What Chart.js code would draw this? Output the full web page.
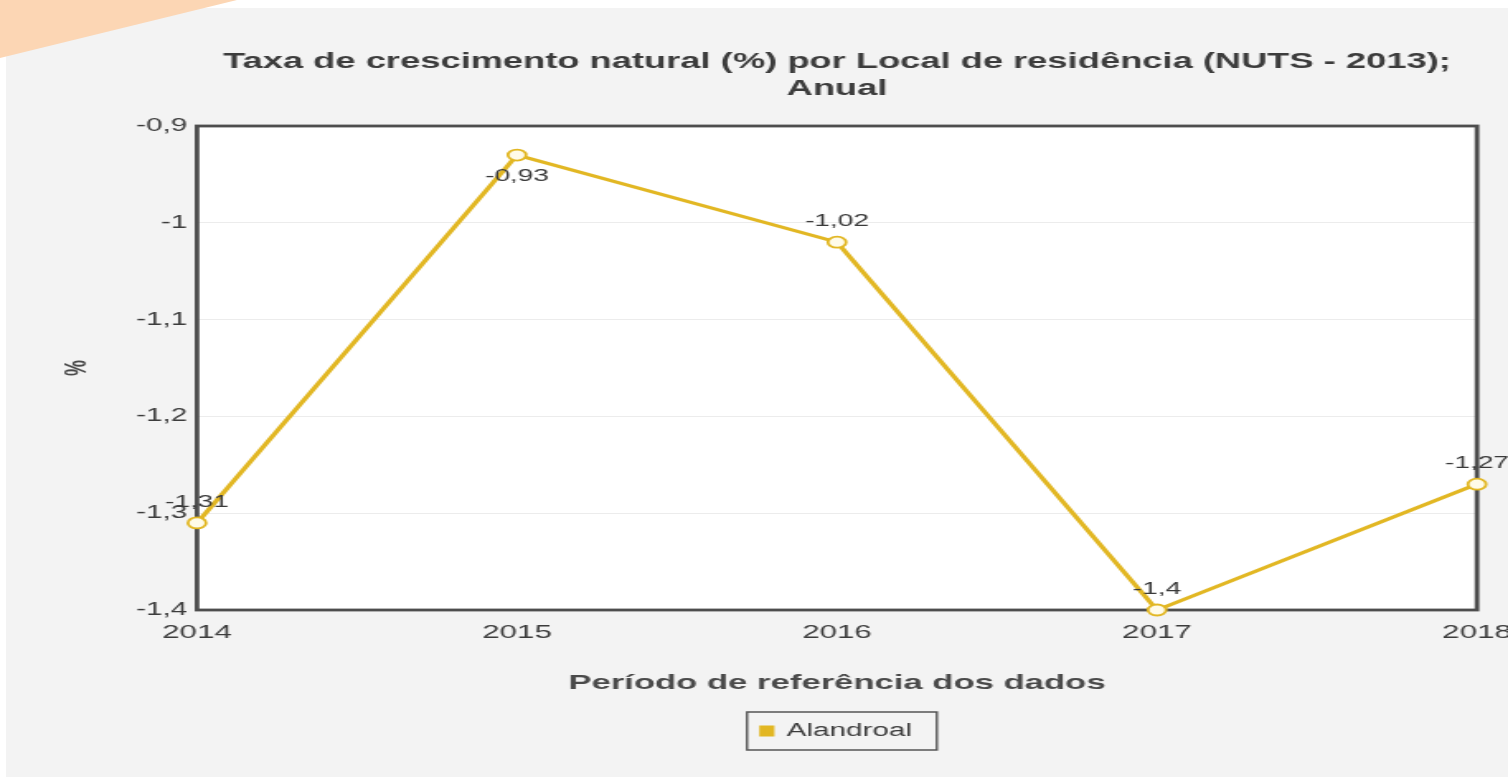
<!DOCTYPE html>
<html>
<head>
<meta charset="utf-8">
<script src="https://cdn.jsdelivr.net/npm/chart.js@4/dist/chart.umd.min.js"></script>
<style>
  html, body { margin: 0; padding: 0; background: #fff; }
  body { width: 1508px; height: 777px; position: relative; overflow: hidden; }
  .panel { position: absolute; left: 6px; top: 8px; right: 0; bottom: 0; background: #f3f3f3; }
  .corner { position: absolute; left: 0; top: 0; width: 240px; height: 60px; background: #fcd6b4;
            clip-path: polygon(0 0, 237px 0, 0 58px); }
  .wrap { position: absolute; left: 0; top: 0; width: 914px; height: 777px;
          transform: scaleX(1.6499); transform-origin: 0 0; }
</style>
</head>
<body>
<div class="panel"></div>
<div class="corner"></div>
<div class="wrap"><canvas id="chart" width="914" height="777"></canvas></div>
<script>
// data
const years = ['2014', '2015', '2016', '2017', '2018'];
const alandroal = [-1.31, -0.93, -1.02, -1.4, -1.27];
const seriesName = 'Alandroal';
const yMin = -1.4;
const yMax = -0.9;
const yStep = 0.1;

const gold = '#e2b723';
const font = 'Liberation Sans, Arial, sans-serif';

function fmt(v) {
  return String(Number(v.toFixed(2))).replace('.', ',');
}

// white plot area + dark frame
const frame = {
  id: 'frame',
  beforeDraw(chart) {
    const a = chart.chartArea, ctx = chart.ctx;
    ctx.save();
    ctx.fillStyle = '#fff';
    ctx.fillRect(a.left, a.top, a.right - a.left, a.bottom - a.top);
    ctx.restore();
  },
  beforeDatasetsDraw(chart) {
    const a = chart.chartArea, ctx = chart.ctx;
    ctx.save();
    ctx.strokeStyle = '#4d4d4d';
    ctx.lineWidth = 2.8;
    ctx.strokeRect(a.left, a.top, a.right - a.left, a.bottom - a.top);
    ctx.restore();
  },
  afterDraw(chart) {
    // box round the legend
    const hb = chart.legend.legendHitBoxes[0];
    if (!hb) return;
    const ctx = chart.ctx;
    ctx.save();
    ctx.strokeStyle = '#555';
    ctx.lineWidth = 1.4;
    const cy = hb.top + hb.height / 2;
    ctx.beginPath();
    ctx.rect(hb.left - 9, cy - 19, hb.width + 24, 38);
    ctx.stroke();
    ctx.restore();
  }
};

// value labels over the points
const valueLabels = {
  id: 'valueLabels',
  afterDatasetsDraw(chart) {
    const ctx = chart.ctx, a = chart.chartArea;
    const meta = chart.getDatasetMeta(0);
    ctx.save();
    ctx.font = '17px ' + font;
    ctx.fillStyle = '#3a3a3a';
    ctx.textAlign = 'center';
    ctx.textBaseline = 'middle';
    meta.data.forEach((pt, i) => {
      let y = pt.y - 21;
      if (y - 10 < a.top) y = pt.y + 21;
      ctx.fillText(fmt(chart.data.datasets[0].data[i]), pt.x, y);
    });
    ctx.restore();
  }
};

const ctx = document.getElementById('chart').getContext('2d');
window.chart = new Chart(ctx, {
  type: 'line',
  data: {
    labels: years,
    datasets: [{
      label: seriesName,
      data: alandroal,
      borderColor: gold,
      backgroundColor: gold,
      borderWidth: 3.2,
      pointRadius: 5.5,
      pointBorderWidth: 1.8,
      pointBackgroundColor: '#fffbe8',
      pointBorderColor: gold,
      tension: 0,
      clip: false
    }]
  },
  options: {
    responsive: false,
    animation: false,
    events: [],
    layout: { padding: { top: 42, left: 0, right: 18.8, bottom: 27 } },
    plugins: {
      title: {
        display: true,
        fullSize: false,
        text: ['Taxa de crescimento natural (%) por Local de residência (NUTS - 2013);', 'Anual'],
        color: '#3c3c3c',
        font: { family: font, size: 22, weight: 'bold', lineHeight: 1.2 },
        padding: { top: 7, bottom: 24.2 }
      },
      legend: {
        position: 'bottom',
        fullSize: false,
        labels: {
          boxWidth: 6,
          boxHeight: 8,
          padding: 10,
          color: '#3c3c3c',
          font: { family: font, size: 18 }
        }
      },
      tooltip: { enabled: false }
    },
    scales: {
      x: {
        offset: false,
        grid: { display: false, drawTicks: false },
        border: { display: false },
        ticks: { color: '#3c3c3c', padding: 11, maxRotation: 0, font: { family: font, size: 19 } },
        title: {
          display: true,
          text: 'Período de referência dos dados',
          color: '#4a4a4a',
          font: { family: font, size: 21, weight: 'bold' },
          padding: { top: 0, bottom: 16.4 }
        },
        afterFit(s) { s.height = 102; s.paddingLeft = 0; s.paddingRight = 0; }
      },
      y: {
        min: yMin,
        max: yMax,
        grid: { color: '#ececec', drawTicks: false },
        border: { display: false },
        ticks: {
          stepSize: yStep,
          color: '#3c3c3c',
          padding: 6,
          font: { family: font, size: 18 },
          callback: v => fmt(v)
        },
        title: {
          display: true,
          text: '%',
          color: '#4a4a4a',
          font: { family: font, size: 18, weight: 'bold' },
          padding: { top: 36, bottom: 0 }
        },
        afterFit(s) { s.width = 119.4; s.paddingTop = 0; s.paddingBottom = 0; }
      }
    }
  },
  plugins: [frame, valueLabels]
});
</script>
</body>
</html>
